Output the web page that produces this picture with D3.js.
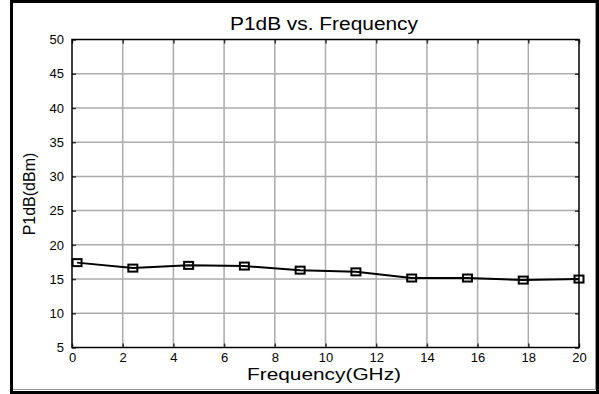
<!DOCTYPE html>
<html>
<head>
<meta charset="utf-8">
<script src="https://cdn.jsdelivr.net/npm/d3@7"></script>
<style>
  html, body { margin: 0; padding: 0; background: #fff; }
  svg { display: block; font-family: "Liberation Sans", Arial, sans-serif; }
</style>
</head>
<body>
<svg id="chart" width="599" height="394"></svg>
<script>
// P1dB measurements across the band
const freqGHz = [0.2, 2.4, 4.6, 6.8, 9.0, 11.2, 13.4, 15.6, 17.8, 20.0];
const p1dB = [17.4, 16.6, 17.0, 16.9, 16.3, 16.05, 15.15, 15.15, 14.85, 15.0];
const xTicks = [0, 2, 4, 6, 8, 10, 12, 14, 16, 18, 20];
const yTicks = [5, 10, 15, 20, 25, 30, 35, 40, 45, 50];
const titleText = "P1dB vs. Frequency";
const xLabel = "Frequency(GHz)";
const yLabel = "P1dB(dBm)";

const svg = d3.select("#chart");
const plot = { left: 72, right: 579, top: 39.5, bottom: 347.5 };

const x = d3.scaleLinear().domain([0, 20]).range([plot.left, plot.right]);
const y = d3.scaleLinear().domain([5, 50]).range([plot.bottom, plot.top]);

// outer frame
svg.append("rect")
  .attr("x", 11.5).attr("y", 1.5).attr("width", 586).attr("height", 391)
  .attr("fill", "#fff").attr("stroke", "#000").attr("stroke-width", 3);
svg.append("line").attr("x1", 13).attr("x2", 595.5).attr("y1", 389.5).attr("y2", 389.5)
  .attr("stroke", "#999").attr("stroke-width", 1);
svg.append("line").attr("x1", 595.5).attr("x2", 595.5).attr("y1", 3).attr("y2", 390)
  .attr("stroke", "#999").attr("stroke-width", 1);

// grid
const grid = svg.append("g").attr("stroke", "#ababab").attr("stroke-width", 1.5);
grid.selectAll("line.gx").data(xTicks.slice(1, -1)).join("line")
  .attr("x1", d => x(d)).attr("x2", d => x(d))
  .attr("y1", plot.top).attr("y2", plot.bottom);
grid.selectAll("line.gy").data(yTicks.slice(1, -1)).join("line")
  .attr("x1", plot.left).attr("x2", plot.right)
  .attr("y1", d => y(d)).attr("y2", d => y(d));

// axes with inward ticks on all four sides
const tickLen = 4;
const axBottom = svg.append("g").attr("transform", `translate(0,${plot.bottom})`)
  .call(d3.axisBottom(x).tickValues(xTicks).tickSizeInner(-tickLen).tickSizeOuter(0).tickPadding(tickLen + 4));
const axTop = svg.append("g").attr("transform", `translate(0,${plot.top})`)
  .call(d3.axisTop(x).tickValues(xTicks).tickSizeInner(-tickLen).tickSizeOuter(0).tickFormat(""));
const axLeft = svg.append("g").attr("transform", `translate(${plot.left},0)`)
  .call(d3.axisLeft(y).tickValues(yTicks).tickSizeInner(-tickLen).tickSizeOuter(0).tickPadding(tickLen + 4));
const axRight = svg.append("g").attr("transform", `translate(${plot.right},0)`)
  .call(d3.axisRight(y).tickValues(yTicks).tickSizeInner(-tickLen).tickSizeOuter(0).tickFormat(""));

[axBottom, axTop, axLeft, axRight].forEach(a => {
  a.select(".domain").remove();
  a.selectAll(".tick line").attr("stroke", "#333").attr("stroke-width", 1.5);
  a.selectAll("text").attr("font-family", "Liberation Sans, Arial, sans-serif")
    .attr("font-size", 13).attr("fill", "#000");
});
axBottom.selectAll("text").attr("dy", "0.5em");

// plot box
svg.append("rect")
  .attr("x", plot.left).attr("y", plot.top)
  .attr("width", plot.right - plot.left).attr("height", plot.bottom - plot.top)
  .attr("fill", "none").attr("stroke", "#000").attr("stroke-width", 1.5);

// series line
const line = d3.line().x((d, i) => x(freqGHz[i])).y(d => y(d));
svg.append("path").datum(p1dB)
  .attr("d", line).attr("fill", "none").attr("stroke", "#000").attr("stroke-width", 2);

// square markers
const mw = 9, mh = 7;
svg.selectAll("rect.marker").data(p1dB).join("rect")
  .attr("class", "marker")
  .attr("x", (d, i) => x(freqGHz[i]) - mw / 2)
  .attr("y", d => y(d) - mh / 2)
  .attr("width", mw).attr("height", mh)
  .attr("fill", "none").attr("stroke", "#000").attr("stroke-width", 2);

// titles (horizontally widened lettering)
svg.append("text").attr("x", 324).attr("y", 30).attr("text-anchor", "middle")
  .attr("font-size", 18).attr("textLength", 188).attr("lengthAdjust", "spacingAndGlyphs")
  .text(titleText);
svg.append("text").attr("x", 324).attr("y", 380).attr("text-anchor", "middle")
  .attr("font-size", 17).attr("textLength", 154).attr("lengthAdjust", "spacingAndGlyphs")
  .text(xLabel);
svg.append("text").attr("transform", "translate(35,194) rotate(-90)")
  .attr("text-anchor", "middle").attr("font-size", 16).text(yLabel);
</script>
</body>
</html>
